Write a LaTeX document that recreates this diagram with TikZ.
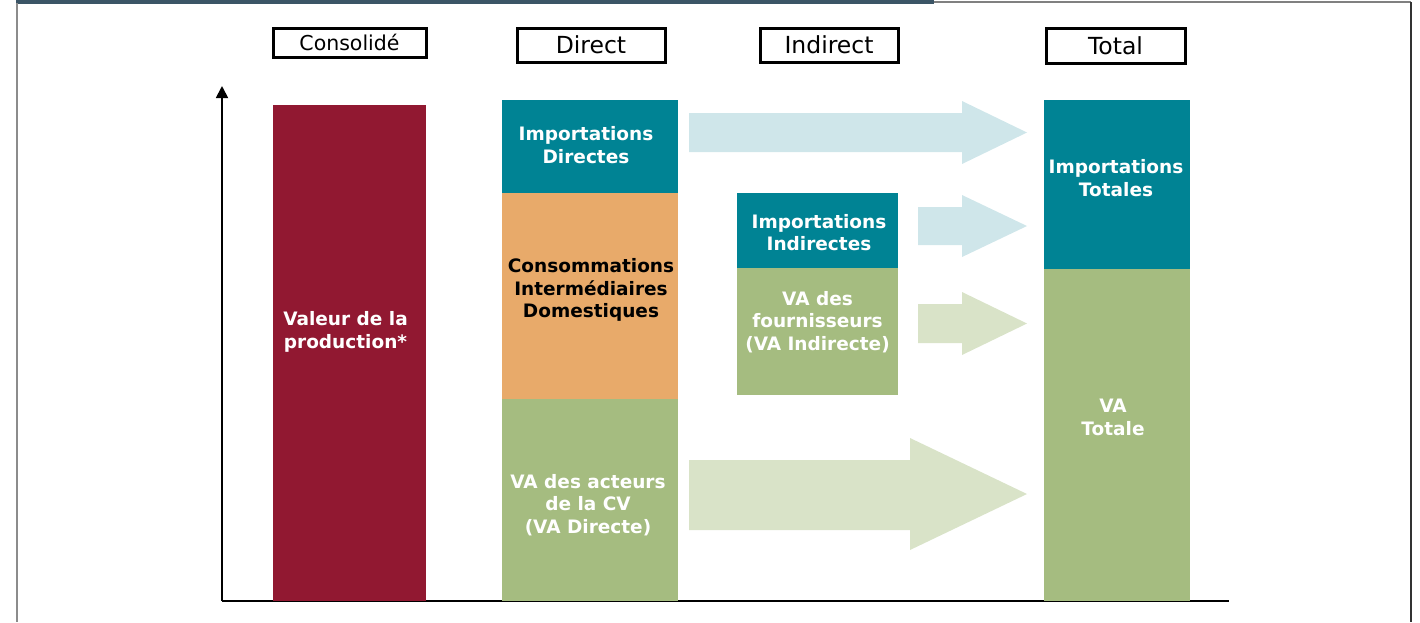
\documentclass[tikz,border=0pt]{standalone}
\usepackage{fontspec}
\setmainfont{DejaVu Sans}
\definecolor{FrameColor}{RGB}{59,85,102}
\definecolor{ProdColor}{RGB}{145,24,49}
\definecolor{ImportColor}{RGB}{0,131,148}
\definecolor{CIColor}{RGB}{232,170,106}
\definecolor{VAColor}{RGB}{165,188,128}
\definecolor{ImportLight}{RGB}{207,230,234}
\definecolor{VALight}{RGB}{217,227,200}
\usetikzlibrary{positioning, arrows.meta}
\tikzstyle{header} = [draw, line width=3pt, inner sep=0pt, font=\fontsize{23.5}{27}\selectfont]
\tikzstyle{bar} = [inner sep=0pt, outer sep=0pt]
\tikzstyle{barlabel} = [align=center, text=white, font=\bfseries\fontsize{18.5}{22.5}\selectfont]
\tikzstyle{axis} = [line width=1.8pt, black]

\begin{document}
\begin{tikzpicture}[x=1pt, y=-1pt]
    \useasboundingbox (0,0) rectangle (1420,622);

    % Frame
    \fill[FrameColor] (16,0) rectangle (934,3.5);
    \draw[black!50, line width=1.5pt] (934,2) -- (1411,2);
    \draw[black!45, line width=1.5pt] (17,3) -- (17,622);
    \draw[black!80, line width=1.5pt] (1411,2) -- (1411,622);

    % Axes
    \coordinate (origin) at (222,601);
    \coordinate (ytop) at (222,86);
    \coordinate (xend) at (1229,601);
    \draw[axis, -{Triangle[length=12pt, width=12pt]}] (origin) -- (ytop);
    \draw[axis] (origin) -- (xend);

    % Headers
    \node[header, minimum width=153pt, minimum height=29pt, font=\fontsize{20.5}{24}\selectfont] (hcons) at (349.5,42.5) {Consolidé};
    \node[header, minimum width=148pt, minimum height=34pt] (hdir) at (591,45) {Direct};
    \node[header, minimum width=138pt, minimum height=34pt] (hind) at (829,45) {Indirect};
    \node[header, minimum width=139pt, minimum height=35pt] (htot) at (1115.5,45.5) {Total};

    % Bars
    \node[bar, fill=ProdColor, minimum width=153pt, minimum height=496pt] (prod) at (349.5,353) {};
    \node[bar, fill=ImportColor, minimum width=176pt, minimum height=93pt] (impdir) at (590,146.5) {};
    \node[bar, fill=CIColor, minimum width=176pt, minimum height=206pt] (cid) at (590,296) {};
    \node[bar, fill=VAColor, minimum width=176pt, minimum height=202pt] (vadir) at (590,500) {};
    \node[bar, fill=ImportColor, minimum width=161pt, minimum height=75pt] (impind) at (817.5,230.5) {};
    \node[bar, fill=VAColor, minimum width=161pt, minimum height=127pt] (vaind) at (817.5,331.5) {};
    \node[bar, fill=ImportColor, minimum width=146pt, minimum height=169pt] (imptot) at (1117,184.5) {};
    \node[bar, fill=VAColor, minimum width=146pt, minimum height=332pt] (vatot) at (1117,435) {};

    % Labels
    \node[barlabel] (prodtxt) at (345.5,332) {Valeur de la\\production*};
    \node[barlabel] (impdirtxt) at (586,145) {Importations\\Directes};
    \node[barlabel, text=black] (cidtxt) at (591,290) {Consommations\\Intermédiaires\\Domestiques};
    \node[barlabel] (vadirtxt) at (588,505) {VA des acteurs\\de la CV\\(VA Directe)};
    \node[barlabel] (impindtxt) at (819,232.5) {Importations\\Indirectes};
    \node[barlabel] (vaindtxt) at (817.5,322) {VA des\\fournisseurs\\(VA Indirecte)};
    \node[barlabel] (imptottxt) at (1116,178) {Importations\\Totales};
    \node[barlabel] (vatottxt) at (1113,417.5) {VA\\Totale};

    % Flows
    \fill[ImportLight] (689,113) -- (962,113) -- (962,101) -- (1027,132.5) -- (962,164) -- (962,152) -- (689,152) -- cycle;
    \fill[ImportLight] (918,207) -- (962,207) -- (962,195) -- (1027,226) -- (962,257) -- (962,245) -- (918,245) -- cycle;
    \fill[VALight] (918,304) -- (962,304) -- (962,292) -- (1027,323.5) -- (962,355) -- (962,343) -- (918,343) -- cycle;
    \fill[VALight] (689,460) -- (910,460) -- (910,438) -- (1027,494) -- (910,550) -- (910,530) -- (689,530) -- cycle;
\end{tikzpicture}
\end{document}
